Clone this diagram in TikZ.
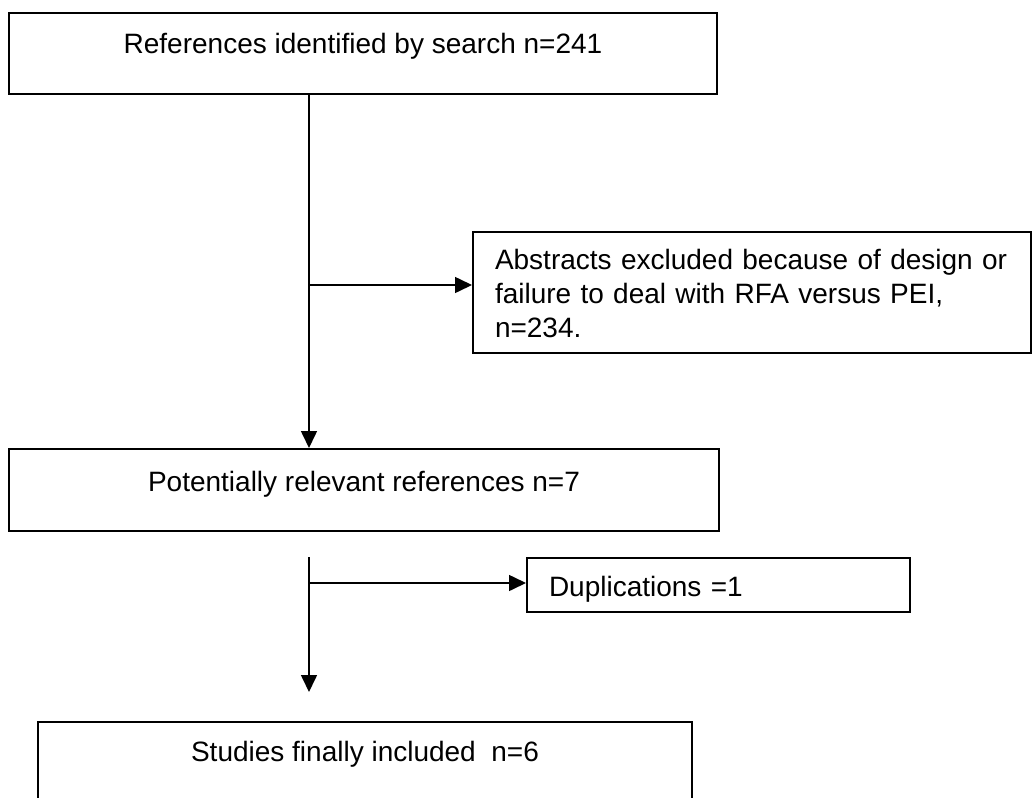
\documentclass[tikz,border=0pt]{standalone}
\usepackage{fontspec}
\setmainfont{Liberation Sans}
\usetikzlibrary{arrows.meta, positioning, calc}

\begin{document}
\begin{tikzpicture}[x=1pt, y=-1pt, every node/.style={font=\fontsize{28}{34}\selectfont},
  flowbox/.style={rectangle, draw=black, line width=2pt, inner sep=0pt, anchor=north west},
  sidebox/.style={flowbox, align=left, inner xsep=22pt},
  flowarrow/.style={-{Triangle[length=17pt, width=16pt]}, line width=1.6pt},
]
\clip (0,0) rectangle (1034,798);
\node[flowbox, minimum width=708pt, text height=40pt, text depth=41pt] (refs) at (8,12) {References identified by search n=241};
\node[sidebox, text width=514pt, text height=37pt, text depth=84pt] (excluded) at (472,231) {Abstracts excluded because of design or\\failure to deal with RFA versus PEI,\\n=234.};
\node[flowbox, minimum width=710pt, text height=42pt, text depth=40pt] (relevant) at (8,448) {Potentially relevant references n=7};
\node[sidebox, text width=339pt, text height=38pt, text depth=16pt] (dups) at (526,557) {Duplications =1};
\node[flowbox, minimum width=654pt, text height=39pt, text depth=100pt] (included) at (37,721) {Studies finally included\ \ n=6};
\coordinate (split1) at (309,285);
\coordinate (start2) at (309,557);
\coordinate (split2) at (309,583);
\coordinate (tip2) at (309,692);
\draw[flowarrow] (refs.south -| split1) -- (split1 |- relevant.north);
\draw[flowarrow] (split1) -- (split1 -| excluded.west);
\draw[flowarrow] (start2) -- (tip2);
\draw[flowarrow] (split2) -- (split2 -| dups.west);
\end{tikzpicture}
\end{document}
